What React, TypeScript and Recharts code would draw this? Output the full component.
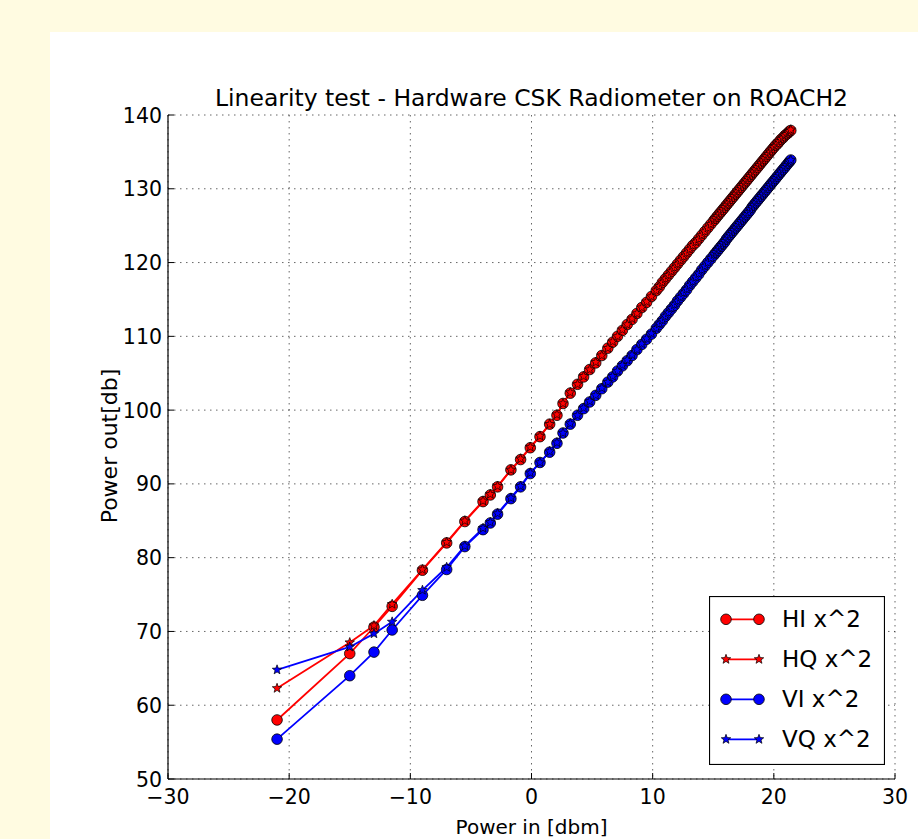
import React from 'react';
import { LineChart, Line, XAxis, YAxis, CartesianGrid, Legend } from 'recharts';

// Input power (dBm) sweep points
const powerIn = [
  -21, -15, -13, -11.5, -9, -7, -5.5, -4, -3.4, -2.8,
  -1.7, -0.9, -0.1, 0.7, 1.5, 2.1, 2.6, 3.2, 3.8, 4.3,
  4.8, 5.3, 5.8, 6.3, 6.7, 7.1, 7.5, 7.9, 8.3, 8.7,
  9.1, 9.5, 9.9,
  10.3, 10.55, 10.8, 11.05, 11.3, 11.55, 11.8, 12.05, 12.3, 12.55,
  12.8, 13.05, 13.3, 13.55, 13.8, 14.05, 14.3, 14.55, 14.8, 15.05,
  15.2, 15.35, 15.5, 15.65, 15.8, 15.95, 16.1, 16.25, 16.4, 16.55, 16.7, 16.85, 17.0,
  17.15, 17.3, 17.45, 17.6, 17.75, 17.9, 18.05, 18.2, 18.35, 18.5, 18.65, 18.8, 18.95,
  19.1, 19.25, 19.4, 19.55, 19.7, 19.85, 20.0, 20.15, 20.3, 20.45, 20.6, 20.75, 20.9, 21.05,
  21.2, 21.3, 21.4,
];

const hiX2 = [
  58.0, 67.0, 70.6, 73.4, 78.3, 82.0, 84.9, 87.6, 88.5, 89.6,
  91.9, 93.3, 94.9, 96.4, 98.1, 99.3, 100.9, 102.3, 103.5, 104.5,
  105.5, 106.4, 107.4, 108.4, 109.2, 110.0, 110.8, 111.6, 112.3, 113.1,
  113.9, 114.6, 115.4,
  116.2, 116.7, 117.3, 117.8, 118.3, 118.8, 119.3, 119.8, 120.3, 120.8,
  121.3, 121.8, 122.3, 122.7, 123.2, 123.7, 124.2, 124.7, 125.2, 125.7,
  126.0, 126.3, 126.6, 126.9, 127.2, 127.5, 127.8, 128.1, 128.4, 128.7, 129.0, 129.3, 129.6,
  129.9, 130.2, 130.5, 130.8, 131.1, 131.4, 131.7, 132.0, 132.3, 132.6, 132.9, 133.2, 133.5,
  133.8, 134.1, 134.4, 134.7, 135.0, 135.3, 135.6, 135.9, 136.1, 136.4, 136.7, 136.9, 137.2, 137.4,
  137.6, 137.8, 137.9,
];

const hqX2 = [
  62.3, 68.5, 70.8, 73.7, 78.4, 82.1, 85.0, 87.7, 88.6, 89.7,
  91.9, 93.4, 95.0, 96.5, 98.1, 99.4, 100.9, 102.4, 103.5, 104.6,
  105.5, 106.5, 107.4, 108.4, 109.3, 110.0, 110.9, 111.6, 112.4, 113.1,
  113.9, 114.7, 115.4,
  116.2, 116.8, 117.3, 117.8, 118.3, 118.8, 119.3, 119.8, 120.3, 120.8,
  121.3, 121.8, 122.3, 122.8, 123.2, 123.7, 124.2, 124.7, 125.2, 125.7,
  126.0, 126.3, 126.6, 126.9, 127.2, 127.5, 127.8, 128.1, 128.4, 128.7, 129.0, 129.3, 129.6,
  129.9, 130.2, 130.5, 130.8, 131.1, 131.4, 131.7, 132.0, 132.3, 132.6, 132.9, 133.2, 133.5,
  133.8, 134.1, 134.4, 134.7, 135.0, 135.3, 135.6, 135.8, 136.1, 136.4, 136.7, 136.9, 137.2, 137.4,
  137.6, 137.8, 138.0,
];

const viX2 = [
  55.4, 64.0, 67.2, 70.2, 74.9, 78.4, 81.5, 83.8, 84.7, 85.9,
  88.0, 89.6, 91.4, 92.9, 94.3, 95.5, 96.9, 98.1, 99.3, 100.2,
  101.1, 102.0, 102.9, 103.8, 104.5, 105.3, 106.0, 106.7, 107.4, 108.2,
  108.9, 109.6, 110.3,
  111.1, 111.6, 112.1, 112.7, 113.2, 113.7, 114.2, 114.8, 115.3, 115.8,
  116.3, 116.9, 117.4, 117.9, 118.4, 119.0, 119.5, 120.0, 120.5, 121.0,
  121.3, 121.6, 121.9, 122.2, 122.5, 122.8, 123.2, 123.5, 123.8, 124.1, 124.4, 124.7, 125.0,
  125.3, 125.6, 125.9, 126.2, 126.5, 126.8, 127.1, 127.5, 127.8, 128.1, 128.4, 128.7, 129.0,
  129.3, 129.6, 129.9, 130.2, 130.5, 130.8, 131.1, 131.4, 131.7, 132.0, 132.3, 132.6, 132.9, 133.2,
  133.5, 133.7, 133.9,
];

const vqX2 = [
  64.8, 67.9, 69.7, 71.3, 75.6, 78.7, 81.6, 84.0, 84.8, 86.0,
  88.1, 89.7, 91.5, 92.9, 94.4, 95.6, 96.9, 98.2, 99.3, 100.3,
  101.2, 102.0, 103.0, 103.8, 104.6, 105.3, 106.1, 106.8, 107.5, 108.2,
  109.0, 109.7, 110.4,
  111.1, 111.7, 112.2, 112.7, 113.2, 113.8, 114.3, 114.8, 115.3, 115.9,
  116.4, 116.9, 117.4, 118.0, 118.5, 119.0, 119.5, 120.0, 120.6, 121.1,
  121.4, 121.7, 122.0, 122.3, 122.6, 122.9, 123.2, 123.5, 123.8, 124.1, 124.4, 124.7, 125.0,
  125.3, 125.6, 125.9, 126.2, 126.5, 126.8, 127.2, 127.5, 127.8, 128.1, 128.4, 128.7, 129.0,
  129.3, 129.6, 129.9, 130.2, 130.5, 130.8, 131.1, 131.4, 131.7, 132.0, 132.3, 132.6, 132.9, 133.2,
  133.5, 133.7, 133.9,
];

const xTicks = [-30, -20, -10, 0, 10, 20, 30];
const yTicks = [50, 60, 70, 80, 90, 100, 110, 120, 130, 140];

const titleText = 'Linearity test - Hardware CSK Radiometer on ROACH2';
const xLabelText = 'Power in [dbm]';
const yLabelText = 'Power out[db]';
const seriesNames = ['HI x^2', 'HQ x^2', 'VI x^2', 'VQ x^2'];

const data = powerIn.map((x, i) => ({
  x,
  hi: hiX2[i],
  hq: hqX2[i],
  vi: viX2[i],
  vq: vqX2[i],
}));

const FONT = '"DejaVu Sans", sans-serif';
const RED = '#ff0000';
const BLUE = '#0000ff';
const CREAM = '#fffbe1';

const fmt = (v: number) => (v < 0 ? '\u2212' + Math.abs(v) : String(v));

function starPath(cx: number, cy: number, R: number, r: number) {
  let d = '';
  for (let k = 0; k < 10; k++) {
    const rad = k % 2 === 0 ? R : r;
    const a = -Math.PI / 2 + (k * Math.PI) / 5;
    const px = cx + rad * Math.cos(a);
    const py = cy + rad * Math.sin(a);
    d += (k === 0 ? 'M' : 'L') + px.toFixed(2) + ',' + py.toFixed(2);
  }
  return d + 'Z';
}

const circleDot = (color: string) => (props: any) => {
  const { cx, cy, index } = props;
  if (cx == null || cy == null) return <g key={`n${index}`} />;
  return <circle key={`c${index}`} cx={cx} cy={cy} r={5.3} fill={color} stroke="#000" strokeWidth={0.8} />;
};

const starDot = (color: string) => (props: any) => {
  const { cx, cy, index } = props;
  if (cx == null || cy == null) return <g key={`n${index}`} />;
  return <path key={`s${index}`} d={starPath(cx, cy, 5, 2.1)} fill={color} stroke="#000" strokeWidth={0.7} />;
};

const XTick = (props: any) => {
  const { x, y, payload } = props;
  return (
    <text x={x} y={y + 25} textAnchor="middle" fontSize={20.5} fontFamily={FONT} fill="#000">
      {fmt(payload.value)}
    </text>
  );
};

const YTick = (props: any) => {
  const { x, y, payload } = props;
  return (
    <text x={x - 6} y={y + 7.5} textAnchor="end" fontSize={20.5} fontFamily={FONT} fill="#000">
      {fmt(payload.value)}
    </text>
  );
};

const XLabel = (props: any) => {
  const vb = props.viewBox;
  return (
    <text x={vb.x + vb.width / 2} y={vb.y + 55} textAnchor="middle" fontSize={20} fontFamily={FONT} fill="#000">
      {xLabelText}
    </text>
  );
};

const YLabel = (props: any) => {
  const vb = props.viewBox;
  const cx = vb.x + 39;
  const cy = vb.y + vb.height / 2 - 1;
  return (
    <text x={cx} y={cy} textAnchor="middle" fontSize={22} fontFamily={FONT} fill="#000" transform={`rotate(-90, ${cx}, ${cy})`}>
      {yLabelText}
    </text>
  );
};

const starKeys = ['hq', 'vq'];

const renderLegend = (props: any) => {
  const payload = props.payload || [];
  return (
    <svg width={176} height={169} style={{ display: 'block' }}>
      <rect x={0.5} y={0.5} width={175} height={168} fill="#fff" stroke="#000" strokeWidth={1.2} />
      {payload.map((p: any, i: number) => {
        const y = 23.3 + 40 * i;
        const isStar = starKeys.includes(p.dataKey);
        const c = p.color;
        return (
          <g key={i}>
            <line x1={17} y1={y} x2={50} y2={y} stroke={c} strokeWidth={1.8} />
            {isStar ? (
              <>
                <path d={starPath(17, y, 5, 2.1)} fill={c} stroke="#000" strokeWidth={0.7} />
                <path d={starPath(50, y, 5, 2.1)} fill={c} stroke="#000" strokeWidth={0.7} />
              </>
            ) : (
              <>
                <circle cx={17} cy={y} r={5.3} fill={c} stroke="#000" strokeWidth={0.8} />
                <circle cx={50} cy={y} r={5.3} fill={c} stroke="#000" strokeWidth={0.8} />
              </>
            )}
            <text x={73} y={y + 8} fontSize={23} fontFamily={FONT} fill="#000">
              {p.value}
            </text>
          </g>
        );
      })}
    </svg>
  );
};

export default function App() {
  return (
    <div style={{ position: 'absolute', left: 0, top: 0, width: 918, height: 839, background: CREAM, overflow: 'hidden' }}>
      <div style={{ position: 'absolute', left: 50, top: 32, width: 868, height: 807, background: '#fff' }} />
      <div style={{ position: 'absolute', left: 0, top: 0 }}>
        <LineChart width={918} height={839} data={data} margin={{ top: 115, right: 23, bottom: 0, left: 78 }}>
          <CartesianGrid xAxisId={0} yAxisId={0} stroke="#000" strokeOpacity={0.6} strokeDasharray="1.5 4.5" strokeWidth={1} />
          <XAxis
            xAxisId={0}
            dataKey="x"
            type="number"
            domain={[-30, 30]}
            ticks={xTicks}
            interval={0}
            allowDataOverflow
            height={60}
            tickSize={-6}
            tickMargin={6}
            tick={<XTick />}
            axisLine={{ stroke: '#000', strokeWidth: 1.2 }}
            tickLine={{ stroke: '#000', strokeWidth: 1 }}
            label={<XLabel />}
          />
          <XAxis
            xAxisId="top"
            orientation="top"
            type="number"
            domain={[-30, 30]}
            ticks={xTicks}
            interval={0}
            allowDataOverflow
            height={0}
            tickSize={-6}
            tick={false}
            axisLine={{ stroke: '#000', strokeWidth: 1.2 }}
            tickLine={{ stroke: '#000', strokeWidth: 1 }}
          />
          <YAxis
            yAxisId={0}
            type="number"
            domain={[50, 140]}
            ticks={yTicks}
            interval={0}
            allowDataOverflow
            width={90}
            tickSize={-6}
            tickMargin={6}
            tick={<YTick />}
            axisLine={{ stroke: '#000', strokeWidth: 1.2 }}
            tickLine={{ stroke: '#000', strokeWidth: 1 }}
            label={<YLabel />}
          />
          <YAxis
            yAxisId="right"
            orientation="right"
            type="number"
            domain={[50, 140]}
            ticks={yTicks}
            interval={0}
            allowDataOverflow
            width={0}
            tickSize={-6}
            tick={false}
            axisLine={{ stroke: '#000', strokeWidth: 1.2 }}
            tickLine={{ stroke: '#000', strokeWidth: 1 }}
          />
          <Line xAxisId={0} yAxisId={0} dataKey="hi" name={seriesNames[0]} stroke={RED} strokeWidth={1.8} dot={circleDot(RED)} isAnimationActive={false} />
          <Line xAxisId={0} yAxisId={0} dataKey="hq" name={seriesNames[1]} stroke={RED} strokeWidth={1.8} dot={starDot(RED)} isAnimationActive={false} />
          <Line xAxisId={0} yAxisId={0} dataKey="vi" name={seriesNames[2]} stroke={BLUE} strokeWidth={1.8} dot={circleDot(BLUE)} isAnimationActive={false} />
          <Line xAxisId={0} yAxisId={0} dataKey="vq" name={seriesNames[3]} stroke={BLUE} strokeWidth={1.8} dot={starDot(BLUE)} isAnimationActive={false} />
          <Legend
            layout="vertical"
            align="center"
            verticalAlign="middle"
            content={renderLegend}
            wrapperStyle={{ left: 709, top: 596, width: 176, height: 169, right: 'auto', bottom: 'auto', margin: 0 }}
          />
        </LineChart>
      </div>
      <svg style={{ position: 'absolute', left: 0, top: 0, pointerEvents: 'none' }} width={918} height={120}>
        <text x={531.5} y={106} textAnchor="middle" fontSize={23} fontFamily={FONT} fill="#000" textLength={633} lengthAdjust="spacingAndGlyphs">
          {titleText}
        </text>
      </svg>
    </div>
  );
}
